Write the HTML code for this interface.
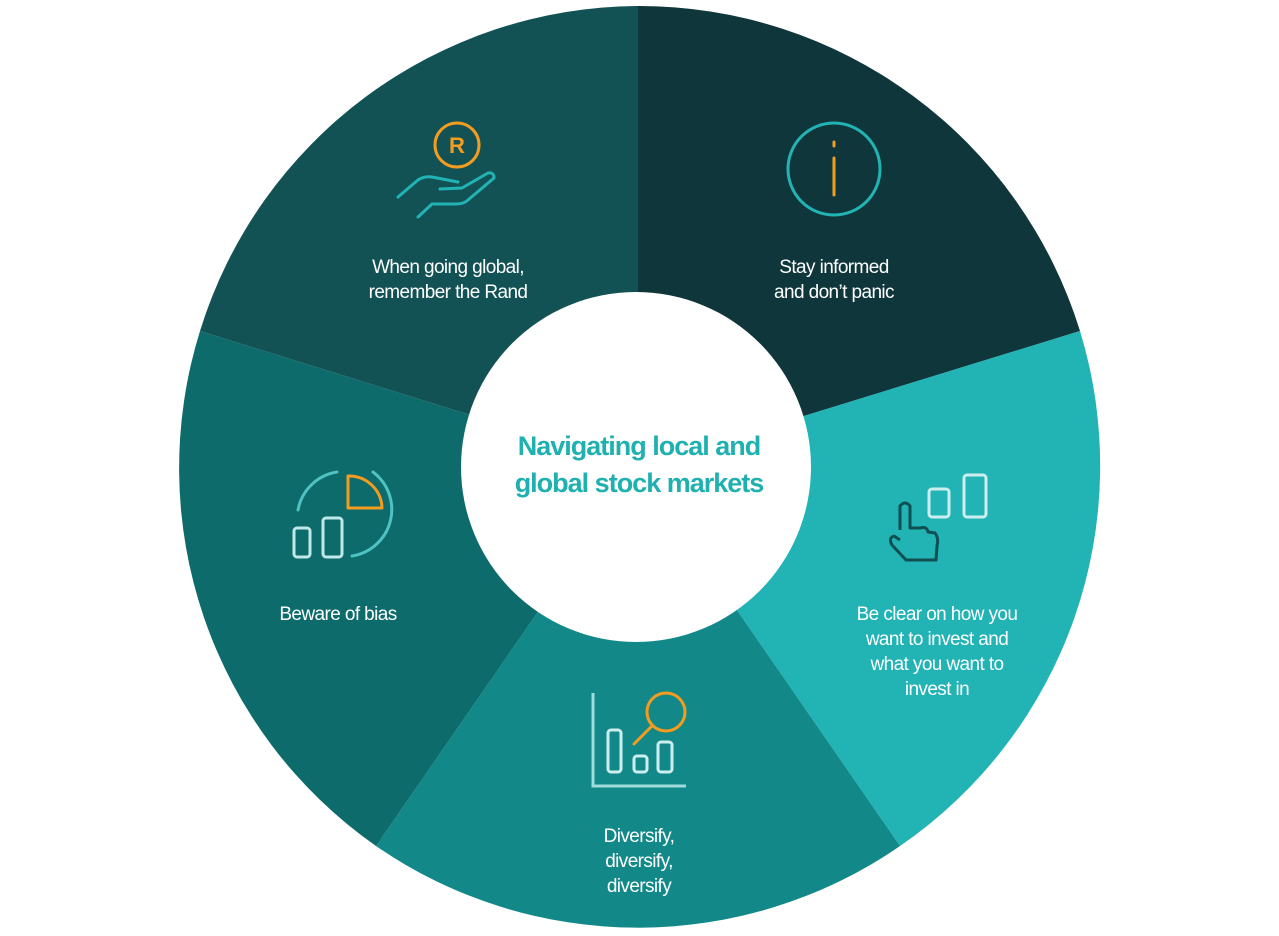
<!DOCTYPE html>
<html><head><meta charset="utf-8"><style>
html,body{margin:0;padding:0;background:#fff;}
svg{display:block}
text{font-family:"Liberation Sans",sans-serif;}
</style></head><body>
<svg width="1279" height="936" viewBox="0 0 1279 936" xmlns="http://www.w3.org/2000/svg">
<path d="M638,467 L638,6 A461,461 0 0 1 1080,331 Z" fill="#0f363b"/>
<path d="M638,467 L1080,331 A461,461 0 0 1 900,846 Z" fill="#22b3b5"/>
<path d="M638,467 L900,846 A461,461 0 0 1 376,846 Z" fill="#128888"/>
<path d="M638,467 L376,846 A461,461 0 0 1 200,331 Z" fill="#0d6b6b"/>
<path d="M638,467 L200,331 A461,461 0 0 1 638,6 Z" fill="#125255"/>
<circle cx="636" cy="467" r="175" fill="#fff"/>
<g font-size="27" font-weight="bold" fill="#1fb0b0" text-anchor="middle" letter-spacing="-1">
<text x="639" y="455">Navigating local and</text>
<text x="639" y="492">global stock markets</text>
</g>
<g fill="#fff" font-size="19" text-anchor="middle" letter-spacing="-0.6">
<text x="834" y="273">Stay informed</text><text x="834" y="298">and don’t panic</text>
<text x="448" y="273">When going global,</text><text x="448" y="298">remember the Rand</text>
<text x="338" y="620">Beware of bias</text>
<text x="937" y="620">Be clear on how you</text><text x="937" y="645">want to invest and</text><text x="937" y="670">what you want to</text><text x="937" y="695">invest in</text>
<text x="639" y="842">Diversify,</text><text x="639" y="867">diversify,</text><text x="639" y="892">diversify</text>
</g>
<circle cx="834" cy="169" r="46" fill="none" stroke="#22b3b5" stroke-width="3"/>
<line x1="834" y1="142" x2="834" y2="146" stroke="#f39c1f" stroke-width="3" stroke-linecap="round"/>
<line x1="834" y1="158" x2="834" y2="195" stroke="#f39c1f" stroke-width="3" stroke-linecap="round"/>
<circle cx="457" cy="145" r="22" fill="none" stroke="#f39c1f" stroke-width="3"/>
<text x="457" y="153" text-anchor="middle" font-size="22" font-weight="bold" fill="#f39c1f">R</text>
<path d="M398,197 L418,180 Q424,176 432,177 L458,182 M440,189 L462,188 L488,173 Q494,172 494,178 L468,200 Q464,204 456,204 L432,204 L418,217" fill="none" stroke="#22b3b5" stroke-width="3" stroke-linecap="round" stroke-linejoin="round"/>
<path d="M348,476 A33,33 0 0 1 382,508 L348,508 Z" fill="none" stroke="#f39c1f" stroke-width="3" stroke-linejoin="round"/>
<path d="M373,472 A47,47 0 0 1 352,556" fill="none" stroke="#4fc2c2" stroke-width="3" stroke-linecap="round"/>
<path d="M298,510 A47,47 0 0 1 337,472" fill="none" stroke="#4fc2c2" stroke-width="3" stroke-linecap="round"/>
<rect x="294" y="528" width="16" height="29" rx="3" fill="none" stroke="#bfe8ea" stroke-width="3"/>
<rect x="323" y="518" width="19" height="39" rx="3" fill="none" stroke="#bfe8ea" stroke-width="3"/>
<rect x="929" y="489" width="20" height="28" rx="3" fill="none" stroke="#cdeeef" stroke-width="3"/>
<rect x="964" y="475" width="22" height="42" rx="3" fill="none" stroke="#cdeeef" stroke-width="3"/>
<path d="M900,530 L900,506 Q905,500 910,506 L910,528 L920,528 Q927,526 928,532 L935,533 Q939,538 937,546 L936,560 L906,560 L892,545 Q888,538 894,536 L900,540" fill="none" stroke="#0f4f52" stroke-width="3" stroke-linejoin="round"/>
<path d="M593,693 L593,786 L686,786" fill="none" stroke="#9fdcdc" stroke-width="3"/>
<rect x="608" y="730" width="13" height="42" rx="3" fill="none" stroke="#cdeeef" stroke-width="3"/>
<rect x="634" y="756" width="13" height="16" rx="3" fill="none" stroke="#cdeeef" stroke-width="3"/>
<rect x="658" y="742" width="14" height="30" rx="3" fill="none" stroke="#cdeeef" stroke-width="3"/>
<circle cx="666" cy="712" r="19" fill="none" stroke="#f39c1f" stroke-width="3"/>
<line x1="652" y1="726" x2="634" y2="744" stroke="#f39c1f" stroke-width="3" stroke-linecap="round"/>
</svg>
</body></html>
